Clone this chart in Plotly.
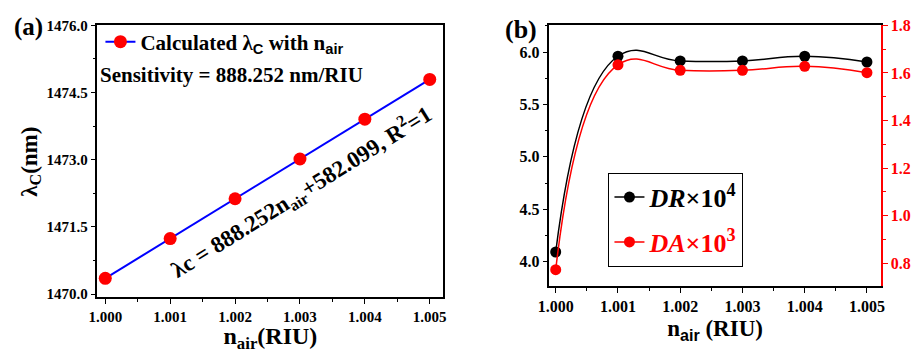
import plotly.graph_objects as go

# ---- data ----
n_air = [1.000, 1.001, 1.002, 1.003, 1.004, 1.005]
lambda_c = [1470.351, 1471.239, 1472.128, 1473.016, 1473.904, 1474.792]
dr_e4 = [4.092, 5.96, 5.915, 5.915, 5.96, 5.905]
da_e3 = [0.773, 1.634, 1.611, 1.611, 1.628, 1.601]
x_ticks = ["1.000", "1.001", "1.002", "1.003", "1.004", "1.005"]
ya_ticks = [1470.0, 1471.5, 1473.0, 1474.5, 1476.0]
yb_ticks = [4.0, 4.5, 5.0, 5.5, 6.0]
yb2_ticks = [0.8, 1.0, 1.2, 1.4, 1.6, 1.8]

W, H = 921, 353
def px(x): return x / W
def py(y): return (H - y) / H

FONT = "Liberation Serif, Times New Roman, serif"
SANS = "Liberation Sans"
def b(s): return "<b>%s</b>" % s

fig = go.Figure()

fig.add_trace(go.Scatter(
    x=n_air, y=lambda_c, mode="lines+markers",
    line=dict(color="#0000ff", width=2),
    marker=dict(color="#ff0000", size=13),
    name=b("Calculated λ<sub><span style='font-family:%s'>C</span></sub> with n<sub><span style='font-family:%s'>air</span></sub>" % (SANS, SANS)),
    xaxis="x", yaxis="y", legend="legend"))

fig.add_trace(go.Scatter(
    x=n_air, y=dr_e4, mode="lines+markers",
    line=dict(color="black", width=1.5, shape="spline", smoothing=1.3),
    marker=dict(color="black", size=11),
    name=b("<i>DR</i>×10<sup>4</sup>"), legendgroup="g1",
    xaxis="x2", yaxis="y2", legend="legend2"))

fig.add_trace(go.Scatter(
    x=n_air, y=da_e3, mode="lines+markers",
    line=dict(color="red", width=1.5, shape="spline", smoothing=1.3),
    marker=dict(color="red", size=11),
    name=b("<span style='color:red'><i>DA</i>×10<sup>3</sup></span>"), legendgroup="g2",
    xaxis="x2", yaxis="y3", legend="legend2"))

xtt = [b(t) for t in x_ticks]
def xcommon(size):
    return dict(showline=True, linecolor="black", linewidth=1.5, mirror=True,
                ticks="outside", ticklen=5, tickwidth=1.2, tickcolor="black",
                showgrid=False, zeroline=False,
                tickvals=n_air, ticktext=xtt,
                tickfont=dict(family=FONT, size=size, color="black"),
                minor=dict(ticks="outside", ticklen=3, dtick=0.0005, tick0=1.0, tickcolor="black"))

fig.update_layout(
    width=W, height=H, margin=dict(l=0, r=0, t=0, b=0),
    paper_bgcolor="white", plot_bgcolor="white",
    font=dict(family=FONT, color="black"),
    showlegend=True,
    xaxis=dict(xcommon(15), domain=[px(87), px(439)], range=[0.99988, 1.00521], anchor="y",
               title=dict(text=b("n<sub>air</sub>(RIU)"), font=dict(family=FONT, size=24), standoff=7)),
    yaxis=dict(domain=[py(300), py(18)], range=[1469.935, 1476.0], anchor="x",
               showline=True, linecolor="black", linewidth=1.5, mirror=True,
               ticks="outside", ticklen=5, tickwidth=1.2, tickcolor="black",
               showgrid=False, zeroline=False, tickvals=ya_ticks,
               ticktext=[b("%.1f" % v) for v in ya_ticks],
               tickfont=dict(family=FONT, size=15, color="black"),
               minor=dict(ticks="outside", ticklen=3, dtick=0.75, tick0=1470.0, tickcolor="black")),
    xaxis2=dict(xcommon(16), domain=[px(547), px(884)], range=[0.9999, 1.00522], anchor="y2",
                title=dict(text=b("n<sub><span style='font-family:%s'>air</span></sub> (RIU)" % SANS),
                           font=dict(family=FONT, size=23), standoff=6)),
    yaxis2=dict(domain=[py(289), py(18)], range=[3.764, 6.255], anchor="x2",
                showline=True, linecolor="black", linewidth=1.5, mirror=False,
                ticks="outside", ticklen=5, tickwidth=1.2, tickcolor="black",
                showgrid=False, zeroline=False, tickvals=yb_ticks,
                ticktext=[b("%.1f" % v) for v in yb_ticks],
                tickfont=dict(family=FONT, size=16, color="black"),
                minor=dict(ticks="outside", ticklen=3, dtick=0.25, tick0=4.0, tickcolor="black")),
    yaxis3=dict(range=[0.703, 1.8], overlaying="y2", side="right", anchor="x2",
                showline=True, linecolor="red", linewidth=2,
                ticks="outside", ticklen=5, tickwidth=1.2, tickcolor="red",
                showgrid=False, zeroline=False, tickvals=yb2_ticks,
                ticktext=[b("%.1f" % v) for v in yb2_ticks],
                tickfont=dict(family=FONT, size=16, color="red"),
                minor=dict(ticks="outside", ticklen=3, dtick=0.1, tick0=0.8, tickcolor="red")),
    legend=dict(x=px(90), y=py(14), xanchor="left", yanchor="top",
                bgcolor="rgba(0,0,0,0)", borderwidth=0,
                font=dict(family=FONT, size=21, color="black")),
    legend2=dict(x=px(607), y=py(171), xanchor="left", yanchor="top",
                 bgcolor="white", bordercolor="black", borderwidth=1,
                 tracegroupgap=8,
                 font=dict(family=FONT, size=26, color="black")),
)

fig.add_annotation(xref="paper", yref="paper", x=px(19), y=py(160), textangle=-90,
                   xanchor="center", yanchor="middle",
                   text=b("λ<sub>C</sub>(nm)"), showarrow=False,
                   font=dict(family=FONT, size=23, color="black"))
fig.add_annotation(xref="paper", yref="paper", x=px(88), y=py(70), xanchor="left", yanchor="middle",
                   text=b("Sensitivity = 888.252 nm/RIU"), showarrow=False,
                   font=dict(family=FONT, size=21, color="black"))
fig.add_annotation(xref="x", yref="y", x=1.00302, y=1472.3, textangle=-32,
                   text=b("λc = 888.252n<sub>air</sub>+582.099, R<sup>2</sup>=1"), showarrow=False,
                   font=dict(family=FONT, size=23, color="black"))
fig.add_annotation(xref="paper", yref="paper", x=px(0), y=py(20), xanchor="left", yanchor="middle",
                   text=b("(a)"), showarrow=False, font=dict(family=FONT, size=25, color="black"))
fig.add_annotation(xref="paper", yref="paper", x=px(500), y=py(22), xanchor="left", yanchor="middle",
                   text=b("(b)"), showarrow=False, font=dict(family=FONT, size=26, color="black"))

fig.write_html("out.html")
